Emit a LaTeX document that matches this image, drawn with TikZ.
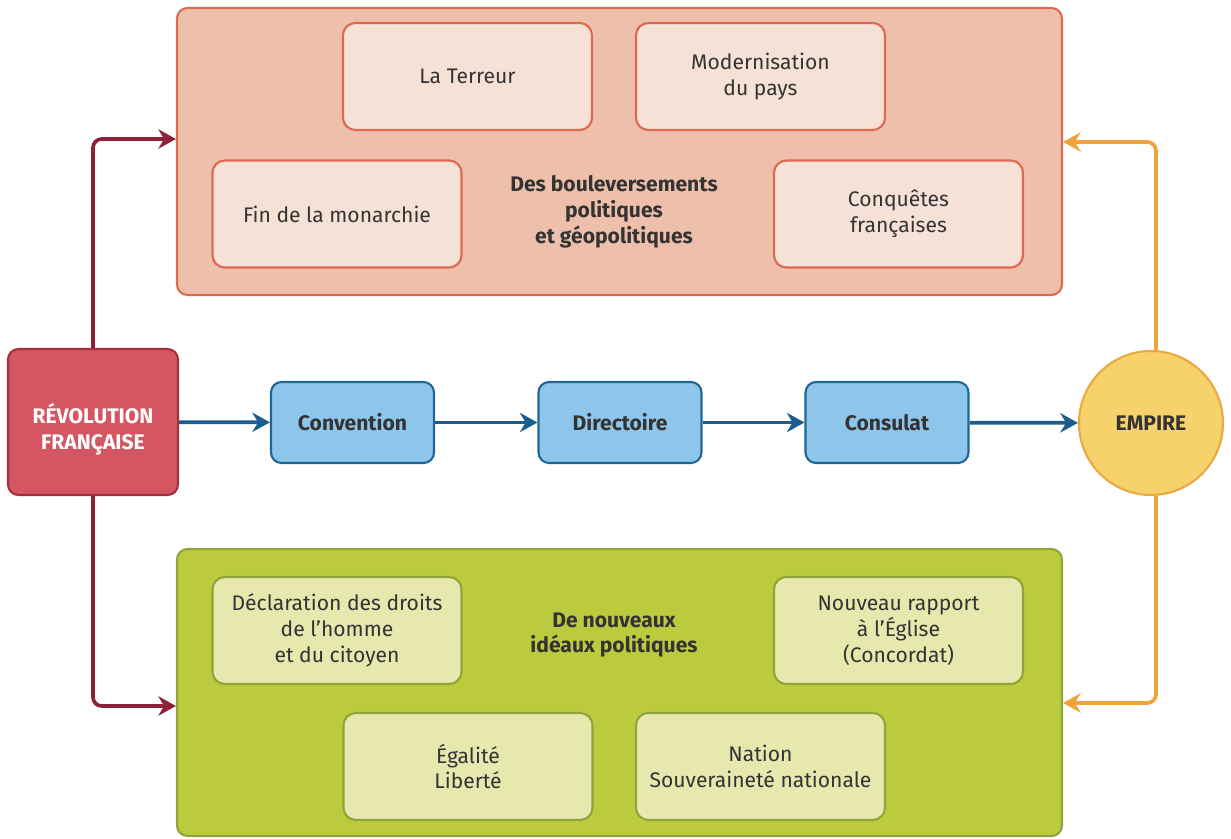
\documentclass[tikz,border=0pt]{standalone}
\usepackage{fontspec}
\setmainfont{Fira Sans}
\usepackage{tikz}
\usetikzlibrary{arrows.meta,positioning,calc}
\definecolor{rvfill}{HTML}{D45662}
\definecolor{rvline}{HTML}{A3303F}
\definecolor{rvarrow}{HTML}{8E2038}
\definecolor{pofill}{HTML}{EEC0AB}
\definecolor{poline}{HTML}{DD6A50}
\definecolor{poinner}{HTML}{F6E1D7}
\definecolor{idfill}{HTML}{BCCB3D}
\definecolor{idline}{HTML}{8FA539}
\definecolor{idinner}{HTML}{E6E8AE}
\definecolor{rgfill}{HTML}{8EC6EB}
\definecolor{rgline}{HTML}{1D6696}
\definecolor{rgarrow}{HTML}{1A5D8E}
\definecolor{emfill}{HTML}{F6D16C}
\definecolor{emline}{HTML}{E9AA3E}
\definecolor{emarrow}{HTML}{EFA33A}
\definecolor{txt}{HTML}{333333}

\begin{document}
\begin{tikzpicture}[font=\fontsize{12}{14.7}\selectfont,text=txt,>=Stealth,
  outerbox/.style={rounded corners=6pt,line width=1.2pt,minimum width=17.7cm,minimum height=5.74cm},
  innerbox/.style={rounded corners=7pt,line width=1.2pt,align=center,minimum width=4.98cm,minimum height=2.14cm},
  regime/.style={draw=rgline,fill=rgfill,line width=1.2pt,rounded corners=6pt,minimum width=3.26cm,minimum height=1.62cm,font=\fontsize{12}{14.7}\selectfont\bfseries},
  link/.style={line width=2.1pt,rounded corners=5pt,-{Stealth[length=10pt,width=11pt]}},
  flow/.style={link,rgarrow}]
  \useasboundingbox (0,0) rectangle (24.62,-16.78);
  % bouleversements
  \node[outerbox,draw=poline,fill=pofill] (top) at (12.39,-3.03) {};
  \node[innerbox,draw=poline,fill=poinner] (terreur) at (9.35,-1.53) {La Terreur};
  \node[innerbox,draw=poline,fill=poinner] (modern) at (15.21,-1.53) {Modernisation\\du pays};
  \node[innerbox,draw=poline,fill=poinner] (fin) at (6.74,-4.28) {Fin de la monarchie};
  \node[innerbox,draw=poline,fill=poinner] (conq) at (17.97,-4.28) {Conquêtes\\françaises};
  \node[align=center,font=\fontsize{12}{14.7}\selectfont\bfseries] (toptitle) at (12.28,-4.24) {Des bouleversements\\politiques\\et géopolitiques};
  % idéaux
  \node[outerbox,draw=idline,fill=idfill] (bot) at (12.39,-13.85) {};
  \node[innerbox,draw=idline,fill=idinner] (decl) at (6.74,-12.61) {Déclaration des droits\\de l’homme\\et du citoyen};
  \node[innerbox,draw=idline,fill=idinner] (nouv) at (17.97,-12.61) {Nouveau rapport\\à l’Église\\(Concordat)};
  \node[innerbox,draw=idline,fill=idinner] (egal) at (9.36,-15.33) {Égalité\\Liberté};
  \node[innerbox,draw=idline,fill=idinner] (nation) at (15.21,-15.33) {Nation\\Souveraineté nationale};
  \node[align=center,font=\fontsize{12}{14.7}\selectfont\bfseries] (bottitle) at (12.28,-12.7) {De nouveaux\\idéaux politiques};
  % frise
  \node[draw=rvline,fill=rvfill,line width=1.2pt,rounded corners=6pt,minimum width=3.4cm,minimum height=2.92cm] (rev) at (1.86,-8.44) {};
  \node[align=center,text=white,font=\fontsize{12}{14.7}\selectfont\bfseries] (revtext) at ([yshift=-0.14cm]rev.center) {RÉVOLUTION\\FRANÇAISE};
  \node[regime] (conv) at (7.05,-8.45) {Convention};
  \node[regime] (dir) at (12.4,-8.45) {Directoire};
  \node[regime] (cons) at (17.74,-8.45) {Consulat};
  \node[circle,draw=emline,fill=emfill,line width=1.2pt,minimum size=2.88cm,inner sep=0pt,font=\fontsize{12}{14.7}\selectfont\bfseries] (emp) at (23.02,-8.46) {EMPIRE};
  \draw[flow] (rev) -- (conv);
  \draw[flow] (conv) -- (dir);
  \draw[flow] (dir) -- (cons);
  \draw[flow] (cons) -- (emp);
  \draw[link,rvarrow] (rev.north) |- ([yshift=0.25cm]top.west);
  \draw[link,rvarrow] (rev.south) |- ([yshift=-0.27cm]bot.west);
  \draw[link,emarrow] ([xshift=0.1cm]emp.north) |- ([yshift=0.19cm]top.east);
  \draw[link,emarrow] ([xshift=0.1cm]emp.south) |- ([yshift=-0.21cm]bot.east);
\end{tikzpicture}
\end{document}
